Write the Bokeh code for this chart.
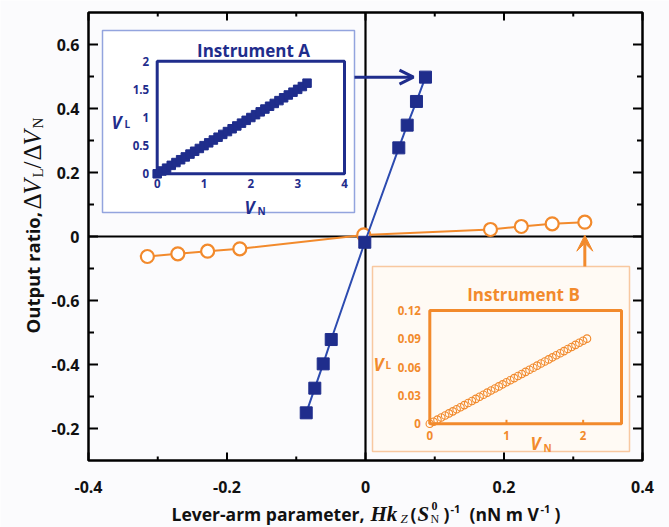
from bokeh.plotting import figure
from bokeh.models import Range1d, Label, Arrow, OpenHead, VeeHead
from bokeh.core.properties import value
from bokeh.embed import file_html
from bokeh.resources import INLINE

# ---------------- data ----------------
# main panel, instrument A (filled squares)
lever_a = [-0.0856, -0.0732, -0.0611, -0.0495, -0.0010, 0.0481, 0.0602, 0.0736, 0.0866]
ratio_a = [-0.551, -0.474, -0.398, -0.322, -0.018, 0.277, 0.348, 0.422, 0.498]
# main panel, instrument B (open circles)
lever_b = [-0.315, -0.271, -0.228, -0.1815, -0.0025, 0.1805, 0.225, 0.2696, 0.3167]
ratio_b = [-0.0625, -0.054, -0.046, -0.0384, 0.005, 0.0219, 0.0313, 0.0397, 0.0447]

x_lim = [-0.4, 0.4]
y_lim = [-0.7, 0.7]
x_ticks = [-0.4, -0.2, 0.0, 0.2, 0.4]
x_minor = [-0.3, -0.1, 0.1, 0.3]
x_tick_labels = ["-0.4", "-0.2", "0", "0.2", "0.4"]
y_ticks = [-0.6, -0.4, -0.2, 0.0, 0.2, 0.4, 0.6]
y_minor = [-0.5, -0.3, -0.1, 0.1, 0.3, 0.5]
y_tick_labels = ["-0.2", "-0.4", "-0.6", "0", "0.2", "0.4", "0.6"]

# inset A: V_L against V_N
inset_a_vn = [0.0, 0.1, 0.2, 0.3, 0.4, 0.5, 0.6, 0.7, 0.8, 0.9, 1.0, 1.1, 1.2,
              1.3, 1.4, 1.5, 1.6, 1.7, 1.8, 1.9, 2.0, 2.1, 2.2, 2.3, 2.4, 2.5,
              2.6, 2.7, 2.8, 2.9, 3.0, 3.1, 3.2]
inset_a_vl = [0.0, 0.05, 0.10, 0.15, 0.20, 0.25, 0.30, 0.35, 0.40, 0.45, 0.50,
              0.55, 0.60, 0.65, 0.70, 0.75, 0.80, 0.85, 0.90, 0.95, 1.00, 1.05,
              1.10, 1.15, 1.20, 1.25, 1.30, 1.35, 1.40, 1.45, 1.50, 1.55, 1.61]
inset_a_xlim = [0, 4]
inset_a_ylim = [0, 2]
inset_a_xticks = [0, 1, 2, 3, 4]
inset_a_yticks = [0, 0.5, 1, 1.5, 2]
inset_a_ylabels = ["0", "0.5", "1", "1.5", "2"]

# inset B: V_L against V_N
inset_b_vn = [0.0, 0.05, 0.10, 0.15, 0.20, 0.25, 0.30, 0.35, 0.40, 0.45, 0.50,
              0.55, 0.60, 0.65, 0.70, 0.75, 0.80, 0.85, 0.90, 0.95, 1.00, 1.05,
              1.10, 1.15, 1.20, 1.25, 1.30, 1.35, 1.40, 1.45, 1.50, 1.55, 1.60,
              1.65, 1.70, 1.75, 1.80, 1.85, 1.90, 1.95, 2.00, 2.05]
inset_b_vl = [0.0, 0.0022, 0.0044, 0.0066, 0.0088, 0.0110, 0.0132, 0.0154,
              0.0176, 0.0198, 0.0220, 0.0242, 0.0264, 0.0286, 0.0308, 0.0330,
              0.0352, 0.0374, 0.0396, 0.0418, 0.0440, 0.0462, 0.0484, 0.0506,
              0.0528, 0.0550, 0.0572, 0.0594, 0.0616, 0.0638, 0.0660, 0.0682,
              0.0704, 0.0726, 0.0748, 0.0770, 0.0792, 0.0814, 0.0836, 0.0858,
              0.0880, 0.0902]
inset_b_xlim = [0, 2.5]
inset_b_ylim = [0, 0.12]
inset_b_xticks = [0, 1, 2]
inset_b_yticks = [0, 0.03, 0.06, 0.09, 0.12]
inset_b_ylabels = ["0", "0.03", "0.06", "0.09", "0.12"]

# ---------------- styling / layout ----------------
NAVY = "#1f2d8c"
BLUE_LINE = "#2c4bb0"
ORANGE = "#f28a2c"
A_BORDER = "#93a4de"
B_BORDER = "#f8c8a0"
B_FILL = "#fffaf4"
BG = "#fbfbfd"
INK = "#111111"
SANS = "Open Sans"
SERIF = "Liberation Serif"

W, H = 669, 527
MAIN_BOX = (88, 642, 12, 460)       # left, right, top, bottom in pixels
A_BOX = (156.7, 344, 60.7, 173.3)
B_BOX = (429.3, 621, 310, 423.3)


def ranges_for(box, xl, yl):
    """Ranges spanning the whole canvas that put xl/yl exactly on box."""
    left, right, top, bottom = box
    sx = (right - left) / (xl[1] - xl[0])
    sy = (bottom - top) / (yl[1] - yl[0])
    xr = Range1d(xl[0] - left / sx, xl[1] + (W - right) / sx)
    yr = Range1d(yl[0] - (H - bottom) / sy, yl[1] + top / sy)
    return xr, yr, sx, sy


main_x, main_y, SX, SY = ranges_for(MAIN_BOX, x_lim, y_lim)
ax_a, ay_a, SXA, SYA = ranges_for(A_BOX, inset_a_xlim, inset_a_ylim)
ax_b, ay_b, SXB, SYB = ranges_for(B_BOX, inset_b_xlim, inset_b_ylim)


def xd(px):
    return main_x.start + px / SX


def yd(py):
    return main_y.end - py / SY


p = figure(width=W, height=H, x_range=main_x, y_range=main_y,
           output_backend="svg", toolbar_location=None,
           x_axis_location=None, y_axis_location=None, min_border=0,
           background_fill_color=BG, border_fill_color=BG,
           outline_line_color=None)
p.grid.visible = False
p.extra_x_ranges = {"ia": ax_a, "ib": ax_b}
p.extra_y_ranges = {"ia": ay_a, "ib": ay_b}

# ---- zero lines ----
p.segment(x0=[x_lim[0], 0], y0=[0, y_lim[0]], x1=[x_lim[1], 0], y1=[0, y_lim[1]],
          line_color="black", line_width=2.2)

# ---- inset panels ----
p.quad(left=[xd(102)], right=[xd(354)], top=[yd(30)], bottom=[yd(212)],
       fill_color="white", line_color=A_BORDER, line_width=1.5)
p.quad(left=[xd(372)], right=[xd(629)], top=[yd(266)], bottom=[yd(451)],
       fill_color=B_FILL, line_color=B_BORDER, line_width=1.5)

# ---- inset A ----
p.scatter(inset_a_vn, inset_a_vl, marker="square", size=8.5, color=NAVY,
          x_range_name="ia", y_range_name="ia")
p.quad(left=[inset_a_xlim[0]], right=[inset_a_xlim[1]], bottom=[inset_a_ylim[0]],
       top=[inset_a_ylim[1]], fill_color=None, line_color=NAVY, line_width=3,
       x_range_name="ia", y_range_name="ia")
p.text(x=[0] * len(inset_a_yticks), y=inset_a_yticks, text=inset_a_ylabels,
       x_offset=-8, text_align="right", text_baseline="middle",
       text_font=value(SANS), text_font_style="bold", text_font_size="11.5px",
       text_color=NAVY, x_range_name="ia", y_range_name="ia")
p.text(x=inset_a_xticks, y=[0] * len(inset_a_xticks),
       text=[str(t) for t in inset_a_xticks], y_offset=5,
       text_align="center", text_baseline="top",
       text_font=value(SANS), text_font_style="bold", text_font_size="11.5px",
       text_color=NAVY, x_range_name="ia", y_range_name="ia")

# ---- inset B ----
p.scatter(inset_b_vn, inset_b_vl, marker="circle", size=7.5, line_color=ORANGE,
          line_width=1.1, fill_color=None, x_range_name="ib", y_range_name="ib")
p.quad(left=[inset_b_xlim[0]], right=[inset_b_xlim[1]], bottom=[inset_b_ylim[0]],
       top=[inset_b_ylim[1]], fill_color=None, line_color=ORANGE, line_width=3,
       x_range_name="ib", y_range_name="ib")
p.segment(x0=inset_b_xticks, y0=[0] * 3, x1=inset_b_xticks, y1=[4 / SYB] * 3,
          line_color=ORANGE, line_width=2, x_range_name="ib", y_range_name="ib")
p.text(x=[0] * len(inset_b_yticks), y=inset_b_yticks, text=inset_b_ylabels,
       x_offset=-9, text_align="right", text_baseline="middle",
       text_font=value(SANS), text_font_style="bold", text_font_size="11.5px",
       text_color=ORANGE, x_range_name="ib", y_range_name="ib")
p.text(x=inset_b_xticks, y=[0] * len(inset_b_xticks),
       text=[str(t) for t in inset_b_xticks], y_offset=7,
       text_align="center", text_baseline="top",
       text_font=value(SANS), text_font_style="bold", text_font_size="11.5px",
       text_color=ORANGE, x_range_name="ib", y_range_name="ib")


def put(txt, px, py, size, color=INK, font=SANS, style="bold", align="left",
        baseline="alphabetic", angle=0):
    p.add_layout(Label(x=xd(px), y=yd(py), text=txt, text_font=font,
                       text_font_style=style, text_font_size=f"{size}px",
                       text_color=color, text_align=align,
                       text_baseline=baseline, angle=angle, angle_units="deg"))


# inset titles and axis names
put("Instrument A", 253, 50, 17, NAVY, align="center")
put("Instrument B", 523, 294, 17, ORANGE, align="center")
put("V", 111, 122, 17, NAVY, style="bold italic")
put("L", 124, 123, 10, NAVY)
put("V", 244, 207, 17, NAVY, style="bold italic")
put("N", 257, 210, 10, NAVY)
put("V", 373, 364, 17, ORANGE, style="bold italic")
put("L", 385, 364, 10, ORANGE)
put("V", 530, 443, 17, ORANGE, style="bold italic")
put("N", 543, 447, 10, ORANGE)

# ---- main series ----
p.line(lever_b, ratio_b, line_color=ORANGE, line_width=2)
p.scatter(lever_b, ratio_b, marker="circle", size=13, line_color=ORANGE,
          line_width=2.2, fill_color="white")
p.line(lever_a, ratio_a, line_color=BLUE_LINE, line_width=2)
p.scatter(lever_a, ratio_a, marker="square", size=12, color=NAVY)

# ---- frame, ticks (inward) and tick labels ----
p.quad(left=[x_lim[0]], right=[x_lim[1]], bottom=[y_lim[0]], top=[y_lim[1]],
       fill_color=None, line_color="black", line_width=2.5)


def ticks_x(vals, length_px):
    n = len(vals)
    d = length_px / SY
    p.segment(x0=vals, y0=[y_lim[0]] * n, x1=vals, y1=[y_lim[0] + d] * n,
              line_color="black", line_width=2)
    p.segment(x0=vals, y0=[y_lim[1]] * n, x1=vals, y1=[y_lim[1] - d] * n,
              line_color="black", line_width=2)


def ticks_y(vals, length_px):
    n = len(vals)
    d = length_px / SX
    p.segment(x0=[x_lim[0]] * n, y0=vals, x1=[x_lim[0] + d] * n, y1=vals,
              line_color="black", line_width=2)
    p.segment(x0=[x_lim[1]] * n, y0=vals, x1=[x_lim[1] - d] * n, y1=vals,
              line_color="black", line_width=2)


ticks_x(x_ticks, 8)
ticks_x(x_minor, 4)
ticks_y(y_ticks, 9.5)
ticks_y(y_minor, 5.5)

p.text(x=[x_lim[0]] * len(y_ticks), y=y_ticks, text=y_tick_labels,
       x_offset=-9, text_align="right", text_baseline="middle",
       text_font=value(SANS), text_font_style="bold", text_font_size="16px",
       text_color=INK)
p.text(x=x_ticks, y=[y_lim[0]] * len(x_ticks), text=x_tick_labels,
       y_offset=26, text_align="center", text_baseline="alphabetic",
       text_font=value(SANS), text_font_style="bold", text_font_size="16px",
       text_color=INK)

# ---- arrows from the insets to their data ----
p.add_layout(Arrow(end=OpenHead(line_color=NAVY, line_width=3, size=14),
                   x_start=xd(354), y_start=ratio_a[-1],
                   x_end=lever_a[-1] - 12 / SX, y_end=ratio_a[-1],
                   line_color=NAVY, line_width=3))
p.add_layout(Arrow(end=VeeHead(fill_color=ORANGE, line_color=ORANGE, size=16),
                   x_start=lever_b[-1], y_start=yd(266),
                   x_end=lever_b[-1], y_end=ratio_b[-1] - 13 / SY,
                   line_color=ORANGE, line_width=3))

# ---- axis titles ----
# x title: plain text, then the lever-arm symbol assembled from pieces
BY = 513
put("Lever-arm parameter,", 171, BY, 17.5)
put("Hk", 370, BY, 21, font=SERIF, style="bold italic")
put("Z", 400, BY + 5, 13, font=SERIF, style="italic")
put("(", 410, BY, 17.5)
put("S", 417, BY, 21, font=SERIF, style="bold italic")
put("0", 431, BY - 8, 12, font=SERIF, style="bold")
put("N", 430, BY + 5, 12, font=SERIF, style="normal")
put(")", 443, BY, 17.5)
put("-1", 450, BY - 5, 11)
put("(nN m V", 469, BY, 17.5)
put("-1", 540, BY - 5, 11)
put(")", 554, BY, 17.5)

# y title, rotated, reading upward
BX = 32
put("Output ratio,", BX, 333, 18.5, angle=90)
put("\u0394", BX, 209, 25, font=SERIF, style="normal", angle=90)
put("V", BX, 194, 25, font=SERIF, style="italic", angle=90)
put("L", BX + 5, 177, 15, font=SERIF, style="normal", angle=90)
put("/", BX, 168, 25, font=SERIF, style="normal", angle=90)
put("\u0394", BX, 160, 25, font=SERIF, style="normal", angle=90)
put("V", BX, 145, 25, font=SERIF, style="italic", angle=90)
put("N", BX + 5, 128, 15, font=SERIF, style="normal", angle=90)

open("out.html", "w").write(file_html(p, INLINE))
